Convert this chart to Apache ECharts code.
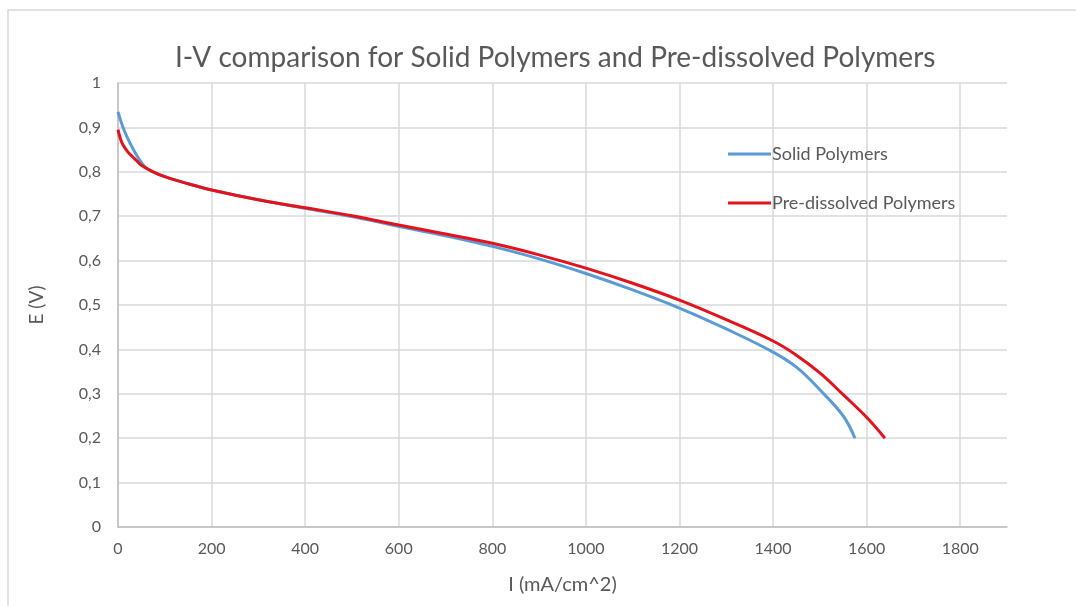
<!DOCTYPE html>
<html>
<head>
<meta charset="utf-8">
<title>I-V comparison</title>
<script src="https://cdn.jsdelivr.net/npm/echarts@6/dist/echarts.min.js"></script>
<style>
  html, body { margin: 0; padding: 0; background: #ffffff; }
  #chart { width: 1076px; height: 606px; }
</style>
</head>
<body>
<div id="chart"></div>
<script>
// Current density (mA/cm^2) and cell voltage (V) for the two membrane preparations
const solidCurrent = [0, 10, 20, 30, 40, 50, 60, 75, 100, 150, 200, 300, 400, 500, 600, 700, 800, 900, 1000, 1100, 1200, 1300, 1400, 1450, 1500, 1550, 1575];
const solidVoltage = [0.935, 0.902, 0.877, 0.856, 0.837, 0.821, 0.809, 0.800, 0.789, 0.773, 0.759, 0.737, 0.718, 0.699, 0.677, 0.656, 0.632, 0.604, 0.571, 0.534, 0.493, 0.446, 0.394, 0.360, 0.309, 0.250, 0.200];

const dissolvedCurrent = [0, 5, 10, 20, 30, 40, 50, 75, 100, 150, 200, 300, 400, 500, 600, 700, 800, 900, 1000, 1100, 1200, 1300, 1400, 1450, 1500, 1550, 1600, 1639];
const dissolvedVoltage = [0.895, 0.875, 0.862, 0.846, 0.835, 0.825, 0.815, 0.800, 0.789, 0.773, 0.759, 0.737, 0.719, 0.701, 0.680, 0.660, 0.639, 0.613, 0.583, 0.549, 0.511, 0.467, 0.419, 0.387, 0.347, 0.298, 0.247, 0.200];

const seriesNames = ['Solid Polymers', 'Pre-dissolved Polymers'];
const chartTitle = 'I-V comparison for Solid Polymers and Pre-dissolved Polymers';
const xAxisTitle = 'I (mA/cm^2)';
const yAxisTitle = 'E (V)';

const pairs = (xs, ys) => xs.map((x, i) => [x, ys[i]]);
const textColor = '#595959';
const font = 'Lato, "Open Sans", sans-serif';

const chart = echarts.init(document.getElementById('chart'), null, { renderer: 'canvas' });
chart.setOption({
  backgroundColor: '#ffffff',
  animation: false,
  graphic: [{
    type: 'rect',
    shape: { x: 8, y: 10, width: 1200, height: 800 },
    style: { fill: 'none', stroke: '#d9d9d9', lineWidth: 1.5 },
    silent: true
  }],
  title: {
    text: chartTitle,
    left: 170,
    top: 39,
    textStyle: { color: textColor, fontFamily: font, fontSize: 28, fontWeight: 'normal' }
  },
  legend: {
    orient: 'vertical',
    left: 728,
    top: 145,
    padding: 0,
    itemWidth: 43,
    itemHeight: 3,
    itemGap: 31,
    icon: 'rect',
    textStyle: { color: textColor, fontFamily: font, fontSize: 18, padding: [0, 0, 0, -4] },
    data: seriesNames
  },
  grid: { left: 118, right: 69, top: 83, bottom: 79, containLabel: false },
  xAxis: {
    type: 'value',
    min: 0,
    max: 1900,
    interval: 200,
    name: xAxisTitle,
    nameLocation: 'middle',
    nameGap: 48,
    nameTextStyle: { color: textColor, fontFamily: font, fontSize: 20 },
    axisLine: { show: true, lineStyle: { color: '#bfbfbf', width: 1.5 } },
    axisTick: { show: false },
    axisLabel: {
      color: textColor, fontFamily: font, fontSize: 16, margin: 14,
      showMaxLabel: false,
      formatter: v => (v % 200 === 0 ? String(v) : '')
    },
    splitLine: { show: true, showMaxLine: false, lineStyle: { color: '#d9d9d9', width: 1.5 } }
  },
  yAxis: {
    type: 'value',
    min: 0,
    max: 1,
    interval: 0.1,
    name: yAxisTitle,
    nameLocation: 'middle',
    nameGap: 72,
    nameRotate: 90,
    nameTextStyle: { color: textColor, fontFamily: font, fontSize: 19 },
    axisLine: { show: true, lineStyle: { color: '#bfbfbf', width: 1.5 } },
    axisTick: { show: false },
    axisLabel: {
      color: textColor, fontFamily: font, fontSize: 16, margin: 17,
      formatter: v => {
        const r = Math.round(v * 10) / 10;
        return String(r).replace('.', ',');
      }
    },
    splitLine: { show: true, lineStyle: { color: '#d9d9d9', width: 1.5 } }
  },
  series: [
    {
      name: seriesNames[0],
      type: 'line',
      data: pairs(solidCurrent, solidVoltage),
      showSymbol: false,
      smooth: 0.4,
      lineStyle: { color: '#5b9bd5', width: 3 },
      itemStyle: { color: '#5b9bd5' },
      z: 2
    },
    {
      name: seriesNames[1],
      type: 'line',
      data: pairs(dissolvedCurrent, dissolvedVoltage),
      showSymbol: false,
      smooth: 0.4,
      lineStyle: { color: '#e3121b', width: 3 },
      itemStyle: { color: '#e3121b' },
      z: 3
    }
  ]
});
</script>
</body>
</html>
